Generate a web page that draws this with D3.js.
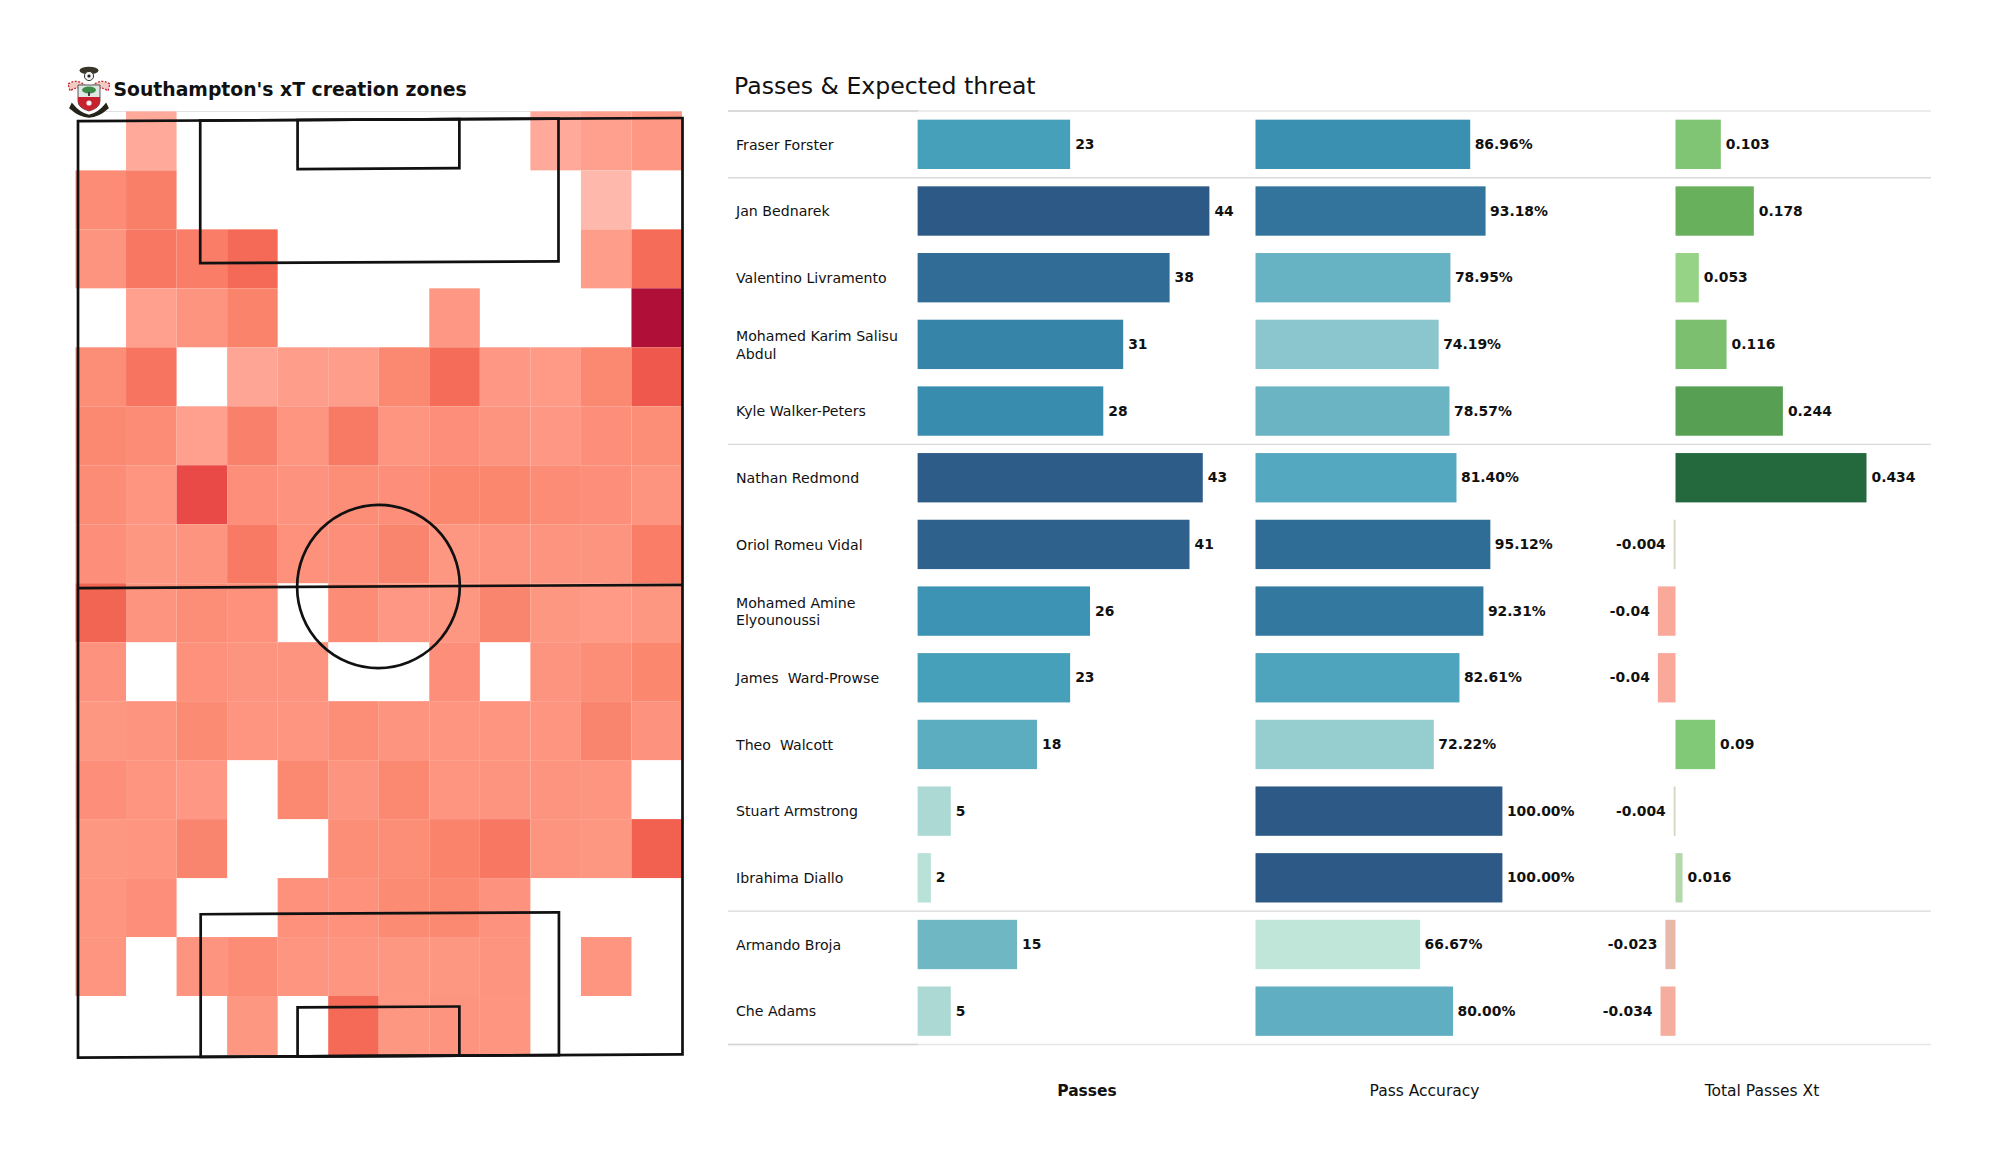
<!DOCTYPE html>
<html>
<head>
<meta charset="utf-8">
<script src="https://cdn.jsdelivr.net/npm/d3@7"></script>
<style>
    body { margin: 0; background: #fff; }
    svg { display: block; }
    text { font-family: "DejaVu Sans", sans-serif; fill: #111; white-space: pre; }
</style>
</head>
<body>
<div id="chart"></div>
<script>
const players = [
    'Fraser Forster', 'Jan Bednarek', 'Valentino Livramento', 'Mohamed Karim Salisu\nAbdul',
    'Kyle Walker-Peters', 'Nathan Redmond', 'Oriol Romeu Vidal', 'Mohamed Amine\nElyounoussi',
    'James  Ward-Prowse', 'Theo  Walcott', 'Stuart Armstrong', 'Ibrahima Diallo',
    'Armando Broja', 'Che Adams'
];
const passes = [23, 44, 38, 31, 28, 43, 41, 26, 23, 18, 5, 2, 15, 5];
const accuracy = [86.96, 93.18, 78.95, 74.19, 78.57, 81.40, 95.12, 92.31, 82.61, 72.22, 100, 100, 66.67, 80];
const xtValues = [0.103, 0.178, 0.053, 0.116, 0.244, 0.434, -0.004, -0.04, -0.04, 0.09, -0.004, 0.016, -0.023, -0.034];
const columnTitles = ['Passes', 'Pass Accuracy', 'Total Passes Xt'];
const groupEnds = [0, 4, 11];

// xT per zone, 16 rows of 12 columns, on a 0-100 colour ladder. null = no passes
const zones = [
    [null, 20, null, null, null, null, null, null, null, 20, 25, 30],
    [38, 45, null, null, null, null, null, null, null, null, 15, null],
    [33, 49, 46, 56, null, null, null, null, null, null, 27, 55],
    [null, 25, 33, 43, null, null, null, 30, null, null, null, 100],
    [37, 50, null, 22, 27, 27, 40, 55, 30, 29, 40, 63],
    [40, 38, 25, 44, 32, 48, 32, 36, 33, 30, 36, 37],
    [38, 32, 70, 36, 34, 37, 36, 41, 41, 38, 36, 33],
    [36, 31, 33, 48, 35, 36, 42, 31, 33, 33, 33, 46],
    [58, 33, 37, 35, null, 38, 30, 31, 42, 31, 29, 31],
    [34, null, 35, 33, 33, null, null, 36, null, 33, 37, 41],
    [31, 33, 39, 32, 32, 37, 33, 32, 32, 32, 42, 34],
    [36, 32, 30, null, 40, 33, 40, 32, 33, 33, 32, null],
    [31, 32, 42, null, null, 37, 37, 43, 49, 33, 31, 60],
    [32, 36, null, null, 35, 35, 39, 40, 34, null, null, null],
    [32, null, 33, 38, 32, 32, 31, 31, 33, null, 32, null],
    [null, null, null, 31, null, 56, 31, 33, 32, null, null, null]
];

const svg = d3.select('#chart').append('svg')
    .attr('width', 2000)
    .attr('height', 1175);

// ---------- pitch ----------
const heatColor = d3.scaleLinear()
    .domain([15, 20, 25, 30, 35, 40, 45, 50, 55, 60, 70, 100])
    .range(['#ffb9ac', '#ffa99b', '#ffa08f', '#fe9884', '#fd917c', '#fb8971', '#f97f69', '#f77560', '#f56c58', '#f2604f', '#e94a48', '#b01038']);

const zoneX = d3.scaleBand().domain(d3.range(12)).range([75.5, 682]);
const zoneY = d3.scaleBand().domain(d3.range(16)).range([111.4, 1055]);

svg.append('line')
    .attr('x1', 100).attr('x2', 682).attr('y1', 111.5).attr('y2', 111.5)
    .attr('stroke', '#e2e2e2').attr('stroke-width', 1.2);

zones.forEach((row, r) => {
    svg.selectAll('rect.zone-' + r).data(row.map((v, c) => ({ v, c })).filter(d => d.v !== null))
        .join('rect')
        .attr('class', 'zone-' + r)
        .attr('x', d => zoneX(d.c))
        .attr('y', zoneY(r))
        .attr('width', zoneX.bandwidth())
        .attr('height', zoneY.bandwidth())
        .attr('fill', d => heatColor(d.v));
});

// pitch is 105 x 68 metres, the source image is very slightly skewed
const pitchX = d3.scaleLinear().domain([0, 68]).range([78, 682.5]);
const pitchY = d3.scaleLinear().domain([0, 105]).range([119.6, 1056]);
const pitch = svg.append('g')
    .attr('transform', 'matrix(1,-0.0053,0,1,0,2)')
    .attr('fill', 'none')
    .attr('stroke', '#111')
    .attr('stroke-width', 2.7);

function pitchRect(x0, x1, y0, y1) {
    pitch.append('rect')
        .attr('x', pitchX(x0))
        .attr('y', pitchY(y0))
        .attr('width', pitchX(x1) - pitchX(x0))
        .attr('height', pitchY(y1) - pitchY(y0));
}
pitchRect(0, 68, 0, 105);
pitchRect(13.75, 54.05, 0, 16);
pitchRect(24.7, 42.9, 0, 5.5);
pitchRect(13.8, 54.1, 89, 105);
pitchRect(24.7, 42.9, 99.5, 105);
pitch.append('line')
    .attr('x1', pitchX(0)).attr('x2', pitchX(68))
    .attr('y1', pitchY(52.35)).attr('y2', pitchY(52.35));
pitch.append('ellipse')
    .attr('cx', pitchX(33.8)).attr('cy', pitchY(52.35))
    .attr('rx', pitchX(9.15) - pitchX(0))
    .attr('ry', pitchY(9.15) - pitchY(0));

// ---------- crest ----------
const crest = svg.append('g').attr('transform', 'translate(89,91)');
crest.append('ellipse').attr('cx', 0).attr('cy', -20.5).attr('rx', 9.5).attr('ry', 3.8).attr('fill', '#3a3528');
crest.append('circle').attr('cx', 0).attr('cy', -15).attr('r', 4.6).attr('fill', '#f2f2f2').attr('stroke', '#333').attr('stroke-width', 1);
crest.append('circle').attr('cx', 0).attr('cy', -15).attr('r', 1.6).attr('fill', '#222');
[-1, 1].forEach(side => {
    crest.append('path')
        .attr('d', `M${side * 3},-5 Q${side * 12},-13 ${side * 21},-7 L${side * 19},0 Q${side * 12},-5 ${side * 9},-2 Z`)
        .attr('fill', '#f3c9c4').attr('stroke', '#c2272d').attr('stroke-width', 1.3).attr('stroke-dasharray', '2 1.5');
});
crest.append('path')
    .attr('d', 'M-11,-6 L11,-6 L11,10 Q11,17 0,20 Q-11,17 -11,10 Z')
    .attr('fill', '#dfe8e4').attr('stroke', '#333').attr('stroke-width', 0.8);
crest.append('path')
    .attr('d', 'M-11,6 L11,6 L11,10 Q11,17 0,20 Q-11,17 -11,10 Z')
    .attr('fill', '#c8202c');
crest.append('ellipse').attr('cx', 0).attr('cy', -1).attr('rx', 7).attr('ry', 3.5).attr('fill', '#3d8b46');
crest.append('rect').attr('x', -1).attr('y', 1).attr('width', 2).attr('height', 4).attr('fill', '#444');
crest.append('circle').attr('cx', 0).attr('cy', 12).attr('r', 2.6).attr('fill', '#eee');
crest.append('path')
    .attr('d', 'M-17,13 Q-9,23 0,24.5 Q9,23 17,13 L19,17 Q9,26 0,26 Q-9,26 -19,17 Z')
    .attr('fill', '#26231a').attr('stroke', '#26231a').attr('stroke-width', 1.5);

svg.append('text')
    .attr('x', 113.5).attr('y', 96)
    .attr('font-size', 18.8).attr('font-weight', 'bold')
    .text("Southampton's xT creation zones");

// ---------- table ----------
svg.append('text')
    .attr('x', 734).attr('y', 94.3)
    .attr('font-size', 23.6)
    .text('Passes & Expected threat');

const rowY = d3.scaleBand().domain(players).range([111, 1044.5]).paddingInner(0.26).paddingOuter(0.13);
const rowLine = i => rowY(players[i]) - rowY.step() * 0.13;

// separators
const lineRows = [0].concat(groupEnds.map(d => d + 1));
lineRows.push(players.length);
lineRows.forEach(i => {
    const y = i === players.length ? rowLine(i - 1) + rowY.step() : rowLine(i);
    const faint = i === 0 || i === players.length;
    svg.append('line')
        .attr('x1', 728).attr('x2', 1931).attr('y1', y).attr('y2', y)
        .attr('stroke', faint ? '#e6e6e6' : '#d9d9d9').attr('stroke-width', 1.4);
    if (faint) {
        svg.append('line')
            .attr('x1', 728).attr('x2', 918).attr('y1', y).attr('y2', y)
            .attr('stroke', '#d5d5d5').attr('stroke-width', 1.4);
    }
});

const names = svg.selectAll('text.name').data(players).join('text')
    .attr('class', 'name')
    .attr('font-size', 14.15);
names.each(function (d) {
    const lines = d.split('\n');
    const mid = rowY(d) + rowY.bandwidth() / 2 + 0.3;
    d3.select(this).selectAll('tspan').data(lines).join('tspan')
        .attr('x', 736)
        .attr('y', (l, i) => mid + 5 + (i - (lines.length - 1) / 2) * 17.7)
        .text(l => l);
});

const blues = t => d3.scaleLinear()
    .domain([0, 0.11, 0.167, 0.226, 0.34, 0.44, 0.52, 0.61, 0.7, 0.795, 0.86, 1])
    .range(['#bfe6d9', '#aedad3', '#96ced0', '#8bc6ce', '#70b7c4', '#54a8bf', '#47a0b9', '#3990b1', '#3685a9', '#32749b', '#306c95', '#2c5985'])(t);

const passX = d3.scaleLinear().domain([0, 44]).range([917.6, 1209.4]);
const accX = d3.scaleLinear().domain([0, 100]).range([1255.5, 1502.4]);
const xtX = d3.scaleLinear().domain([0, 0.434]).range([1675.5, 1866.5]);

const passT = d3.scaleLinear().domain([0, 44]);
const accT = d3.scaleLinear().domain([66.67, 100]);
const xtColor = d3.scaleLinear()
    .domain([-0.04, -0.034, -0.023, -0.004, 0.016, 0.053, 0.09, 0.116, 0.178, 0.244, 0.434])
    .range(['#f9a899', '#f5ad9d', '#e8b8a8', '#d3d3bf', '#b4d8ac', '#96d386', '#82c977', '#7cc06f', '#68b05c', '#57a053', '#24693d']);

function barColumn(cls, values, x, color, label, gap) {
    svg.selectAll('rect.' + cls).data(values).join('rect')
        .attr('class', cls)
        .attr('x', d => x(Math.min(0, d)))
        .attr('y', (d, i) => rowY(players[i]))
        .attr('width', d => Math.abs(x(d) - x(0)))
        .attr('height', rowY.bandwidth())
        .attr('fill', color);

    svg.selectAll('text.' + cls).data(values).join('text')
        .attr('class', cls)
        .attr('x', d => d < 0 ? x(d) - 8 : x(d) + gap)
        .attr('y', (d, i) => rowY(players[i]) + rowY.bandwidth() / 2 + 4.6)
        .attr('text-anchor', d => d < 0 ? 'end' : 'start')
        .attr('font-size', 13.9)
        .attr('font-weight', 'bold')
        .text(label);
}

barColumn('passes', passes, passX, d => blues(passT(d)), d => d, 5);
barColumn('accuracy', accuracy, accX, d => blues(accT(d)), d => d.toFixed(2) + '%', 4.5);
barColumn('xt', xtValues, xtX, d => xtColor(d), d => String(d), 5);

const titleX = [1087, 1424.5, 1762];
svg.selectAll('text.col-title').data(columnTitles).join('text')
    .attr('class', 'col-title')
    .attr('x', (d, i) => titleX[i])
    .attr('y', 1095.5)
    .attr('text-anchor', 'middle')
    .attr('font-size', 15.5)
    .attr('font-weight', (d, i) => i === 0 ? 'bold' : 'normal')
    .text(d => d);
</script>
</body>
</html>
